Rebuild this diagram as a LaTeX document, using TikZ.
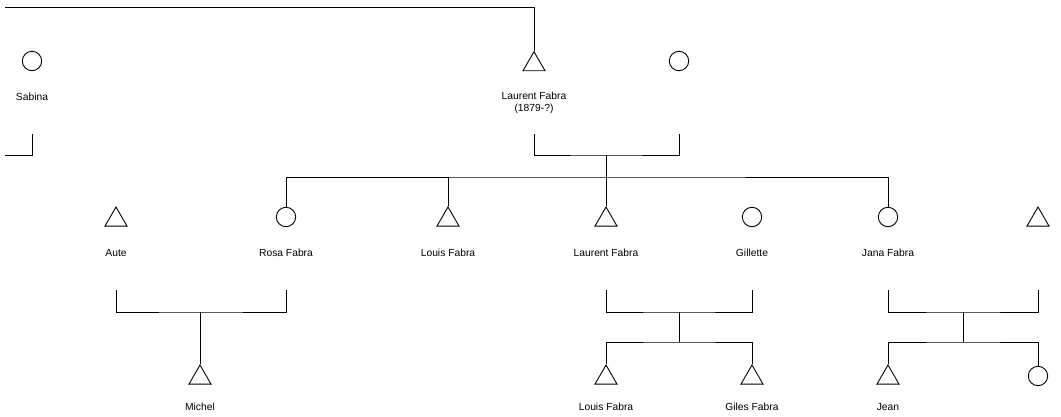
\documentclass[tikz,border=0pt]{standalone}
\usepackage{fontspec}
\setmainfont{Liberation Sans}
\usetikzlibrary{shapes.geometric}

\begin{document}
\begin{tikzpicture}
      [x=1pt, y=-1pt, line width=0.9pt,
       male/.style={regular polygon, regular polygon sides=3, draw, minimum size=25.4pt, inner sep=0pt},
       female/.style={circle, draw, minimum size=19.4pt, inner sep=0pt},
       tag/.style={font=\fontsize{10.3}{12}\selectfont, align=center, inner sep=0pt}]
      \useasboundingbox (0,0) rectangle (1061,417);

      % helper rows
      \coordinate (r1top) at (0,134);
      \coordinate (r2top) at (0,290);

      % first generation
      \node[female] (sabina) at (32,61) {};
      \node[male] (laurentSr) at (534,64.4) {};
      \node[female] (laurentWife) at (679,61) {};
      \node[tag] (sabinaTxt) at (32,97) {Sabina};
      \node[tag] (laurentSrTxt) at (534,103) {Laurent Fabra\\(1879-?)};

      % second generation
      \node[male] (aute) at (116,219.7) {};
      \node[female] (rosa) at (286,217) {};
      \node[male] (louis) at (448,219.7) {};
      \node[male] (laurentJr) at (606,219.7) {};
      \node[female] (gillette) at (752,217) {};
      \node[female] (jana) at (888,217) {};
      \node[male] (janaHusband) at (1038,219.7) {};
      \node[tag] (auteTxt) at (116,253) {Aute};
      \node[tag] (rosaTxt) at (286,253) {Rosa Fabra};
      \node[tag] (louisTxt) at (448,253) {Louis Fabra};
      \node[tag] (laurentJrTxt) at (606,253) {Laurent Fabra};
      \node[tag] (gilletteTxt) at (752,253) {Gillette};
      \node[tag] (janaTxt) at (888,253) {Jana Fabra};

      % third generation
      \node[male] (michel) at (200,377.7) {};
      \node[male] (louisIII) at (606,377.7) {};
      \node[male] (giles) at (752,377.7) {};
      \node[male] (jean) at (888,377.7) {};
      \node[female] (janaDaughter) at (1038,376) {};
      \node[tag] (michelTxt) at (200,407) {Michel};
      \node[tag] (louisIIITxt) at (606,407) {Louis Fabra};
      \node[tag] (gilesTxt) at (752,407) {Giles Fabra};
      \node[tag] (jeanTxt) at (888,407) {Jean};

      % marriages and descent
      \coordinate (topEnd) at (5,7);
      \coordinate (sabinaEnd) at (5,155);
      \coordinate (m1) at (606,155);
      \coordinate (sib1) at (606,177);
      \coordinate (m2) at (200,312);
      \coordinate (m3) at (679,312);
      \coordinate (sib3) at (679,342);
      \coordinate (m4) at (963,312);
      \coordinate (sib4) at (963,342);

      \draw (topEnd) -| (laurentSr.north);
      \draw (sabina |- r1top) |- (sabinaEnd);
      \draw (laurentSr |- r1top) |- (m1) -| (laurentWife |- r1top);
      \draw (m1) -- (laurentJr.north);
      \draw (rosa.north) |- (sib1) -| (jana.north);
      \draw (louis.north) -- (louis |- sib1);

      \draw (aute |- r2top) |- (m2) -| (rosa |- r2top);
      \draw (m2) -- (michel.north);
      \draw (laurentJr |- r2top) |- (m3) -| (gillette |- r2top);
      \draw (m3) -- (sib3);
      \draw (louisIII.north) |- (sib3) -| (giles.north);
      \draw (jana |- r2top) |- (m4) -| (janaHusband |- r2top);
      \draw (m4) -- (sib4);
      \draw (jean.north) |- (sib4) -| (janaDaughter.north);
   \end{tikzpicture}
\end{document}
